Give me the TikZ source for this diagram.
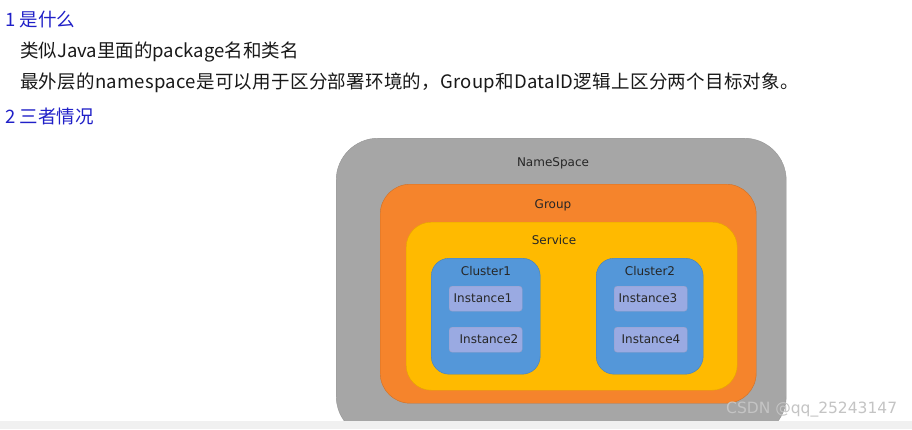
\documentclass[tikz,border=0pt]{standalone}
\usepackage{fontspec}
\setmainfont{DejaVu Sans}
\newfontfamily\cjk{Noto Sans CJK SC}
\newfontfamily\dv{DejaVu Sans}
\definecolor{nsgray}{HTML}{A6A6A6}
\definecolor{grporange}{HTML}{F5842C}
\definecolor{svcyellow}{HTML}{FFBA00}
\definecolor{clblue}{HTML}{5497D9}
\definecolor{instfill}{HTML}{9AAAE2}
\definecolor{headblue}{HTML}{2020C8}
\definecolor{stripgray}{HTML}{F0F0F0}
\definecolor{wmgray}{HTML}{C4C4C4}
\tikzset{
  box/.style={inner sep=0pt, anchor=north west},
  lbl/.style={font=\dv\fontsize{12}{14}\selectfont, text=black!85, inner sep=0pt},
  head/.style={font=\cjk\fontsize{18.5}{21}\selectfont, text=headblue, anchor=west, inner sep=0pt},
  body/.style={font=\cjk\fontsize{18.5}{21}\selectfont, text=black!90, anchor=west, inner sep=0pt},
  inst/.style={box, minimum width=73pt, minimum height=25pt, rounded corners=3pt, fill=instfill, draw=instfill!80!blue!70!black!60},
  clus/.style={box, minimum height=116pt, rounded corners=18pt, fill=clblue, draw=clblue!85!black},
}
\begin{document}
\begin{tikzpicture}[x=1pt,y=-1pt]
\useasboundingbox (0,0) rectangle (912,429);
\fill[white] (0,0) rectangle (912,429);
% texts
\node[head] (h1) at (5,20) {1 是什么};
\node[body] (t1) at (20,52) {类似Java里面的package名和类名};
\node[body, font=\cjk\fontsize{18.5}{21}\selectfont\addfontfeature{LetterSpace=1.5}] (t2) at (20,83) {最外层的namespace是可以用于区分部署环境的，Group和DataID逻辑上区分两个目标对象。};
\node[head] (h2) at (5,116) {2 三者情况};
% boxes
\begin{scope}
\clip (0,0) rectangle (912,421);
\node[box, minimum width=450pt, minimum height=300pt, rounded corners=42pt, fill=nsgray, draw=nsgray!90!black] (ns) at (336,138) {};
\end{scope}
\node[box, minimum width=376pt, minimum height=219pt, rounded corners=30pt, fill=grporange, draw=grporange!85!black] (grp) at (380,184) {};
\node[box, minimum width=331pt, minimum height=168pt, rounded corners=25pt, fill=svcyellow, draw=svcyellow!90!black] (svc) at (406,222) {};
\node[clus, minimum width=109pt] (c1) at (431,258) {};
\node[clus, minimum width=107pt] (c2) at (596,258) {};
\node[inst] (i1) at (449,286) {};
\node[inst] (i2) at (449,327) {};
\node[inst] (i3) at (614,286) {};
\node[inst] (i4) at (614,327) {};
% labels
\node[lbl] (lns) at (553,163) {NameSpace};
\node[lbl] (lgrp) at (553,205) {Group};
\node[lbl] (lsvc) at (554,240) {Service};
\node[lbl] (lc1) at (486,271) {Cluster1};
\node[lbl] (lc2) at (650,271) {Cluster2};
\node[lbl] (li1) at (483,298.5) {Instance1};
\node[lbl] (li2) at (489,339.5) {Instance2};
\node[lbl] (li3) at (648,298.5) {Instance3};
\node[lbl] (li4) at (651,339.5) {Instance4};
% bottom strip
\fill[stripgray] (0,421) rectangle (912,429);
% watermark
\node[font=\dv\fontsize{15.5}{17}\selectfont, text=wmgray, anchor=west, inner sep=0pt] (wm) at (726,410) {CSDN @qq\_25243147};
\end{tikzpicture}
\end{document}
